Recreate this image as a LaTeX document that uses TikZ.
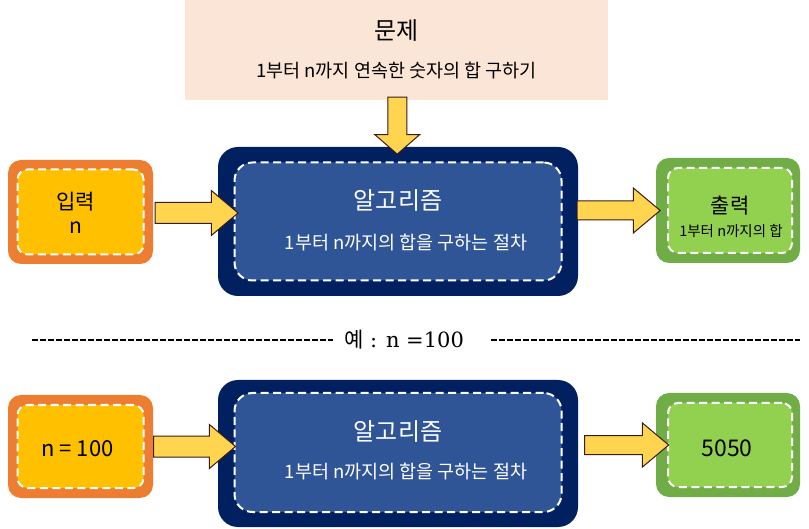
\documentclass[tikz,border=0pt]{standalone}
\usepackage{fontspec}
\setmainfont{DejaVu Serif}
\newfontfamily\kr{Noto Sans CJK KR}
\usetikzlibrary{shapes.arrows, positioning, calc}
\definecolor{peach}{HTML}{FBE5D6}
\definecolor{orangeO}{HTML}{ED7D31}
\definecolor{yellowI}{HTML}{FFC000}
\definecolor{navyO}{HTML}{002060}
\definecolor{blueI}{HTML}{2F5597}
\definecolor{greenO}{HTML}{70AD47}
\definecolor{greenI}{HTML}{92D050}
\definecolor{arrowfill}{HTML}{FFD54F}
\definecolor{arrowline}{HTML}{3A1A1A}
\tikzset{
    probbox/.style={
        fill=peach,
        minimum width=423pt,
        minimum height=100pt,
        inner sep=0pt,
    },
    dashbox/.style={
        draw=white,
        line width=2pt,
        dash pattern=on 8pt off 4.5pt,
        inner sep=0pt,
    },
    inbox/.style={
        fill=orangeO,
        minimum width=145pt,
        minimum height=104pt,
        rounded corners=13pt,
    },
    inboxin/.style={
        dashbox,
        fill=yellowI,
        minimum width=126pt,
        minimum height=85pt,
        rounded corners=10pt,
    },
    algbox/.style={
        fill=navyO,
        minimum width=360pt,
        minimum height=149pt,
        rounded corners=20pt,
    },
    algboxin/.style={
        dashbox,
        fill=blueI,
        minimum width=327pt,
        minimum height=118pt,
        rounded corners=18pt,
    },
    outbox/.style={
        fill=greenO,
        minimum width=144pt,
        minimum height=105pt,
        rounded corners=13pt,
    },
    outboxin/.style={
        dashbox,
        fill=greenI,
        minimum width=124pt,
        minimum height=85pt,
        rounded corners=10pt,
    },
    fatarrow/.style={
        single arrow,
        draw=arrowline,
        fill=arrowfill,
        line width=1pt,
        inner sep=10pt,
        minimum height=83pt,
        single arrow head extend=12pt,
        single arrow tip angle=80,
    },
    bigtext/.style={font=\kr\fontsize{24}{28}\selectfont},
    midtext/.style={font=\kr\fontsize{21}{25}\selectfont},
    subtext/.style={font=\kr\fontsize{18.5}{22}\selectfont},
    smalltext/.style={font=\kr\fontsize{14.5}{17}\selectfont},
    sepline/.style={line width=2.2pt, dash pattern=on 5.5pt off 2.5pt},
}
\begin{document}
\begin{tikzpicture}[x=1pt, y=-1pt]
    \useasboundingbox (0,0) rectangle (809,529);

    % problem
    \node [probbox] (prob) at (396.5,50) {};
    \node [bigtext] (probT) at ($(prob.north)+(0,31)$) {문제};
    \node [subtext] (probS) at ($(prob.north)+(0,71)$) {1부터 n까지 연속한 숫자의 합 구하기};

    % first row
    \node [inbox] (inA) at (80.5,212) {};
    \node [inboxin] (inAin) at (inA.center) {};
    \node [algbox] (algA) at (398,221.5) {};
    \node [algboxin] (algAin) at (algA.center) {};
    \node [outbox] (outA) at (728,210.5) {};
    \node [outboxin] (outAin) at ($(outA.center)+(2,0)$) {};

    \node [midtext] at ($(inAin.center)+(-5,-10)$) {입력};
    \node [midtext] at ($(inAin.center)+(-5,16)$) {n};
    \node [bigtext, text=white] at ($(algAin.center)+(0,-21)$) {알고리즘};
    \node [subtext, text=white] at ($(algAin.center)+(8,21)$) {1부터 n까지의 합을 구하는 절차};
    \node [midtext] at ($(outAin.center)+(0,-5)$) {출력};
    \node [smalltext] at ($(outAin.center)+(1,21)$) {1부터 n까지의 합};

    \node [fatarrow, minimum height=57pt, inner sep=9pt, single arrow head extend=13pt,
           single arrow tip angle=98, shape border rotate=270, yshift=2pt] (arrD)
          at ($(prob.south)!0.5!(algA.north)$) {};
    \node [fatarrow, xshift=-3pt, yshift=-1pt] (arrA1) at ($(inA.east)!0.5!(algAin.west |- inA.east)$) {};
    \node [fatarrow, inner sep=9pt, single arrow head extend=13pt, xshift=-4pt] (arrA2)
          at ($(algA.east |- outA.west)!0.5!(outA.west)$) {};

    % example
    \node [font=\fontsize{21}{25}\selectfont] (ex) at (404,340) {{\kr 예} : n =100};
    \coordinate (sepL) at (32,340);
    \coordinate (sepR) at (800,340);
    \draw [sepline] (sepL) -- ([xshift=-8pt]ex.west);
    \draw [sepline] ([xshift=24pt]ex.east) -- (sepR);

    % second row
    \node [inbox, minimum height=103pt] (inB) at (80.5,446.5) {};
    \node [inboxin, minimum height=83pt] (inBin) at (inB.center) {};
    \node [algbox, minimum height=147pt] (algB) at (398,453.5) {};
    \node [algboxin, minimum height=119pt] (algBin) at ($(algB.center)+(0,-1)$) {};
    \node [outbox, minimum height=104pt] (outB) at (728,445) {};
    \node [outboxin, minimum height=84pt] (outBin) at ($(outB.center)+(2,0)$) {};

    \node [midtext, font=\kr\fontsize{22}{26}\selectfont] at ($(inBin.center)+(-3,2)$) {n = 100};
    \node [bigtext, text=white] at ($(algBin.center)+(0,-21)$) {알고리즘};
    \node [subtext, text=white] at ($(algBin.center)+(8,19)$) {1부터 n까지의 합을 구하는 절차};
    \node [midtext, font=\kr\fontsize{23}{27}\selectfont] at ($(outBin.center)+(-3,3)$) {5050};

    \node [fatarrow, minimum height=82pt, single arrow head extend=11.5pt, xshift=-5pt] (arrB1)
          at ($(inB.east)!0.5!(algBin.west |- inB.east)$) {};
    \node [fatarrow, minimum height=84pt, inner sep=9pt, single arrow head extend=12.5pt,
           xshift=4pt] (arrB2)
          at ($(algB.east |- outB.west)!0.5!(outB.west)$) {};
\end{tikzpicture}
\end{document}
